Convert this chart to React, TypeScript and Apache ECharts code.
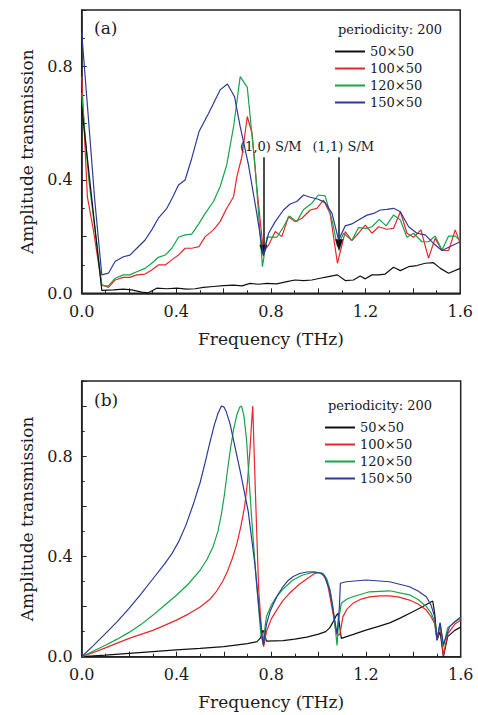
import React, { useEffect, useRef } from "react";
import * as echarts from "echarts";

const seriesNames = ["50×50", "100×50", "120×50", "150×50"];
const seriesColors = ["#111111", "#e8262b", "#17a34a", "#2c3b97"];
const xTickLabels = ["0.0", "0.4", "0.8", "1.2", "1.6"];
const yTickLabels = ["0.0", "0.4", "0.8"];
const arrowFreqs = [0.768, 1.088];
const arrowLabels = ["(1,0) S/M", "(1,1) S/M"];

// Panel (a): measured
const blackA = [[0,0.66],[0.085,0.01],[0.134,0.012],[0.176,0.015],[0.211,0.012],[0.254,0.004],[0.282,0.002],[0.317,0.018],[0.36,0.016],[0.402,0.018],[0.444,0.015],[0.479,0.016],[0.515,0.021],[0.557,0.024],[0.6,0.027],[0.642,0.029],[0.677,0.026],[0.712,0.035],[0.747,0.032],[0.783,0.035],[0.825,0.033],[0.867,0.041],[0.902,0.047],[0.938,0.045],[0.973,0.047],[1.008,0.053],[1.043,0.059],[1.081,0.065],[1.114,0.045],[1.149,0.047],[1.177,0.061],[1.199,0.051],[1.227,0.065],[1.255,0.065],[1.283,0.068],[1.318,0.092],[1.347,0.08],[1.382,0.094],[1.417,0.098],[1.452,0.106],[1.487,0.108],[1.516,0.088],[1.551,0.071],[1.6,0.088]];
const redA = [[0,0.765],[0.024,0.34],[0.05,0.22],[0.085,0.03],[0.113,0.021],[0.141,0.047],[0.176,0.056],[0.204,0.056],[0.233,0.065],[0.268,0.068],[0.296,0.082],[0.324,0.1],[0.353,0.1],[0.381,0.118],[0.409,0.135],[0.437,0.159],[0.465,0.159],[0.496,0.165],[0.522,0.2],[0.557,0.224],[0.585,0.253],[0.613,0.3],[0.642,0.341],[0.656,0.412],[0.677,0.482],[0.7,0.624],[0.72,0.565],[0.74,0.376],[0.768,0.147],[0.79,0.17],[0.818,0.218],[0.846,0.2],[0.874,0.27],[0.902,0.253],[0.931,0.265],[0.966,0.294],[0.994,0.3],[1.022,0.329],[1.05,0.282],[1.081,0.106],[1.114,0.218],[1.142,0.186],[1.17,0.212],[1.199,0.241],[1.227,0.212],[1.255,0.235],[1.29,0.226],[1.318,0.229],[1.347,0.288],[1.375,0.212],[1.403,0.198],[1.434,0.224],[1.466,0.124],[1.494,0.194],[1.523,0.151],[1.551,0.151],[1.579,0.224],[1.6,0.176]];
const greenA = [[0,0.706],[0.03,0.4],[0.06,0.2],[0.085,0.027],[0.113,0.026],[0.141,0.053],[0.176,0.065],[0.204,0.065],[0.233,0.076],[0.268,0.088],[0.296,0.106],[0.324,0.127],[0.353,0.135],[0.381,0.159],[0.409,0.198],[0.437,0.206],[0.465,0.209],[0.496,0.247],[0.522,0.282],[0.557,0.324],[0.585,0.376],[0.613,0.453],[0.642,0.588],[0.67,0.765],[0.7,0.727],[0.733,0.447],[0.764,0.094],[0.783,0.198],[0.825,0.198],[0.853,0.235],[0.878,0.273],[0.909,0.253],[0.938,0.296],[0.973,0.318],[1.0,0.347],[1.029,0.344],[1.058,0.259],[1.081,0.165],[1.107,0.212],[1.142,0.186],[1.17,0.232],[1.206,0.229],[1.227,0.235],[1.258,0.261],[1.287,0.238],[1.318,0.276],[1.347,0.259],[1.375,0.198],[1.403,0.212],[1.438,0.182],[1.466,0.182],[1.494,0.202],[1.523,0.153],[1.551,0.202],[1.579,0.202],[1.6,0.186]];
const blueA = [[0,0.92],[0.03,0.6],[0.055,0.33],[0.085,0.065],[0.113,0.071],[0.141,0.112],[0.176,0.129],[0.204,0.135],[0.233,0.159],[0.268,0.188],[0.296,0.224],[0.324,0.265],[0.36,0.3],[0.385,0.34],[0.409,0.382],[0.437,0.4],[0.465,0.476],[0.496,0.571],[0.536,0.635],[0.585,0.718],[0.616,0.739],[0.646,0.694],[0.67,0.588],[0.705,0.453],[0.74,0.282],[0.768,0.135],[0.79,0.212],[0.818,0.253],[0.853,0.294],[0.881,0.315],[0.909,0.324],[0.938,0.347],[0.966,0.339],[1.0,0.332],[1.029,0.32],[1.058,0.282],[1.086,0.188],[1.114,0.238],[1.142,0.245],[1.17,0.259],[1.206,0.276],[1.234,0.282],[1.262,0.294],[1.29,0.296],[1.318,0.3],[1.347,0.288],[1.382,0.235],[1.417,0.212],[1.452,0.206],[1.487,0.176],[1.523,0.151],[1.558,0.165],[1.6,0.182]];

// Panel (b): simulated
const blackB = [[0,0],[0.1,0.006],[0.2,0.013],[0.3,0.02],[0.4,0.027],[0.5,0.033],[0.6,0.04],[0.7,0.052],[0.74,0.06],[0.755,0.075],[0.765,0.106],[0.772,0.09],[0.78,0.062],[0.85,0.064],[0.9,0.07],[0.95,0.078],[1.0,0.09],[1.03,0.1],[1.047,0.115],[1.062,0.14],[1.075,0.165],[1.082,0.173],[1.096,0.073],[1.15,0.09],[1.2,0.106],[1.25,0.12],[1.3,0.135],[1.342,0.153],[1.4,0.18],[1.44,0.2],[1.482,0.222],[1.49,0.173],[1.5,0.066],[1.513,0.1],[1.527,0.0],[1.545,0.08],[1.575,0.105],[1.6,0.118]];
const redB = [[0,0],[0.05,0.017],[0.1,0.035],[0.15,0.054],[0.2,0.073],[0.25,0.089],[0.3,0.105],[0.35,0.125],[0.4,0.146],[0.45,0.17],[0.5,0.198],[0.54,0.228],[0.57,0.262],[0.595,0.3],[0.615,0.34],[0.635,0.39],[0.655,0.45],[0.672,0.52],[0.688,0.6],[0.7,0.7],[0.71,0.82],[0.717,0.93],[0.722,1.0],[0.733,0.665],[0.747,0.27],[0.761,0.08],[0.768,0.04],[0.78,0.1],[0.8,0.15],[0.823,0.186],[0.85,0.225],[0.879,0.255],[0.92,0.29],[0.95,0.31],[0.98,0.33],[1.0,0.336],[1.015,0.333],[1.03,0.31],[1.04,0.28],[1.05,0.23],[1.061,0.173],[1.07,0.12],[1.08,0.085],[1.09,0.09],[1.103,0.16],[1.12,0.19],[1.145,0.213],[1.18,0.23],[1.215,0.239],[1.26,0.243],[1.3,0.243],[1.34,0.238],[1.384,0.226],[1.42,0.21],[1.455,0.186],[1.475,0.16],[1.49,0.133],[1.5,0.066],[1.513,0.13],[1.527,0.005],[1.545,0.09],[1.575,0.13],[1.6,0.145]];
const greenB = [[0,0],[0.05,0.023],[0.1,0.046],[0.15,0.07],[0.2,0.097],[0.25,0.128],[0.3,0.165],[0.35,0.205],[0.4,0.245],[0.45,0.29],[0.5,0.345],[0.53,0.39],[0.555,0.44],[0.575,0.5],[0.59,0.57],[0.603,0.65],[0.615,0.74],[0.628,0.83],[0.642,0.91],[0.655,0.965],[0.667,0.995],[0.675,1.0],[0.685,0.96],[0.696,0.864],[0.717,0.558],[0.738,0.293],[0.756,0.093],[0.765,0.055],[0.78,0.16],[0.8,0.205],[0.822,0.239],[0.85,0.27],[0.892,0.306],[0.93,0.325],[0.97,0.335],[1.0,0.336],[1.02,0.332],[1.035,0.31],[1.05,0.26],[1.062,0.19],[1.072,0.1],[1.078,0.045],[1.085,0.15],[1.096,0.213],[1.12,0.23],[1.145,0.239],[1.215,0.259],[1.3,0.263],[1.384,0.247],[1.42,0.228],[1.455,0.2],[1.475,0.175],[1.49,0.14],[1.5,0.07],[1.513,0.133],[1.527,0.04],[1.545,0.115],[1.575,0.138],[1.6,0.153]];
const blueB = [[0,0],[0.05,0.045],[0.1,0.092],[0.15,0.14],[0.2,0.193],[0.25,0.25],[0.3,0.31],[0.35,0.37],[0.38,0.41],[0.41,0.46],[0.44,0.525],[0.47,0.605],[0.5,0.695],[0.52,0.77],[0.54,0.85],[0.56,0.925],[0.575,0.97],[0.59,1.0],[0.6,0.997],[0.61,0.978],[0.626,0.93],[0.668,0.745],[0.703,0.58],[0.731,0.37],[0.752,0.16],[0.767,0.045],[0.78,0.13],[0.795,0.18],[0.809,0.21],[0.83,0.25],[0.85,0.28],[0.87,0.303],[0.893,0.32],[0.92,0.332],[0.95,0.338],[0.984,0.339],[1.01,0.332],[1.026,0.32],[1.047,0.266],[1.061,0.186],[1.078,0.09],[1.088,0.2],[1.092,0.293],[1.117,0.299],[1.2,0.306],[1.3,0.299],[1.384,0.279],[1.42,0.262],[1.455,0.239],[1.475,0.205],[1.49,0.16],[1.5,0.066],[1.513,0.136],[1.527,0.047],[1.553,0.12],[1.575,0.14],[1.6,0.158]];

const panelA = [blackA, redA, greenA, blueA];
const panelB = [blackB, redB, greenB, blueB];

const FONT = '"DejaVu Serif", serif';
const TXT = "#1a1a1a";

function xAxisFor(gridIndex: number) {
  return {
    type: "value",
    gridIndex,
    min: 0,
    max: 1.6,
    interval: 0.2,
    name: "Frequency (THz)",
    nameLocation: "middle",
    nameGap: 37,
    nameTextStyle: { fontFamily: FONT, fontSize: 17, color: TXT },
    axisLine: { show: true, onZero: false, lineStyle: { color: "#222", width: 1.5 } },
    axisTick: { show: true, inside: true, length: 5, lineStyle: { color: "#222", width: 1 } },
    minorTick: { show: true, splitNumber: 2, length: 3, lineStyle: { color: "#222", width: 1 } },
    splitLine: { show: false },
    axisLabel: {
      margin: 10,
      fontFamily: FONT,
      fontSize: 16,
      color: TXT,
      showMinLabel: true,
      showMaxLabel: true,
      formatter: (v: number) => {
        const s = v.toFixed(1);
        return xTickLabels.includes(s) ? s : "";
      },
    },
  };
}

function yAxisFor(gridIndex: number, max: number) {
  return {
    type: "value",
    gridIndex,
    min: 0,
    max,
    interval: 0.2,
    name: "Amplitude transmission",
    nameLocation: "middle",
    nameGap: 46,
    nameTextStyle: { fontFamily: FONT, fontSize: 17, color: TXT },
    axisLine: { show: true, onZero: false, lineStyle: { color: "#222", width: 1.5 } },
    axisTick: { show: true, inside: true, length: 5, lineStyle: { color: "#222", width: 1 } },
    minorTick: { show: true, splitNumber: 2, length: 3, lineStyle: { color: "#222", width: 1 } },
    splitLine: { show: false },
    axisLabel: {
      margin: 9,
      fontFamily: FONT,
      fontSize: 16,
      color: TXT,
      showMinLabel: true,
      formatter: (v: number) => {
        const s = v.toFixed(1);
        return yTickLabels.includes(s) && Math.abs(v - parseFloat(s)) < 1e-6 ? s : "";
      },
    },
  };
}

function legendFor(left: number, top: number) {
  return {
    left,
    top,
    orient: "vertical",
    padding: 0,
    itemWidth: 30,
    itemHeight: 2,
    itemGap: 4,
    icon: "rect",
    selectedMode: false,
    data: seriesNames,
    textStyle: { fontFamily: FONT, fontSize: 13, color: TXT },
  };
}

export default function App() {
  const ref = useRef<HTMLDivElement>(null);
  useEffect(() => {
    if (!ref.current) return;
    const chart = echarts.init(ref.current, null, { renderer: "svg" });
    const series: any[] = [];
    panelA.forEach((d, i) => {
      const s: any = {
        type: "line",
        name: seriesNames[i],
        xAxisIndex: 0,
        yAxisIndex: 0,
        data: d,
        symbol: "none",
        lineStyle: { color: seriesColors[i], width: 1.2 },
        itemStyle: { color: seriesColors[i] },
        z: 2 + i,
      };
      if (i === 0) {
        s.markLine = {
          silent: true,
          animation: false,
          label: { show: false },
          lineStyle: { color: "#111", width: 1.5, type: "solid" },
          data: arrowFreqs.map((f, k) => [
            { coord: [f, 0.48], symbol: "none" },
            { coord: [f, k === 0 ? 0.15 : 0.17], symbol: "triangle", symbolSize: [8, 12] },
          ]),
        };
        s.z = 10;
      }
      series.push(s);
    });
    panelB.forEach((d, i) => {
      series.push({
        type: "line",
        name: seriesNames[i],
        xAxisIndex: 1,
        yAxisIndex: 1,
        data: d,
        symbol: "none",
        lineStyle: { color: seriesColors[i], width: 1.2 },
        itemStyle: { color: seriesColors[i] },
        z: 2 + i,
      });
    });

    const txt = (text: string, x: number, y: number, size: number, align = "left") => ({
      type: "text",
      x,
      y,
      z: 20,
      style: { text, fontFamily: FONT, fontSize: size, fill: TXT, align, verticalAlign: "middle" },
    });

    chart.setOption({
      animation: false,
      backgroundColor: "#ffffff",
      grid: [
        { left: 81.7, top: 10, width: 378.5, height: 283.3, show: true, borderColor: "#222", borderWidth: 1.5, containLabel: false },
        { left: 81.7, top: 381, width: 379, height: 275.7, show: true, borderColor: "#222", borderWidth: 1.5, containLabel: false },
      ],
      xAxis: [xAxisFor(0), xAxisFor(1)],
      yAxis: [yAxisFor(0, 1.0), yAxisFor(1, 1.1)],
      legend: [legendFor(335, 45), legendFor(325, 421)],
      series,
      graphic: [
        txt("(a)", 94, 28, 17),
        txt("periodicity: 200", 338, 29.5, 13),
        txt("(b)", 94, 400, 17),
        txt("periodicity: 200", 328, 405, 13),
        txt(arrowLabels[0], 270.8, 146, 13, "center"),
        txt(arrowLabels[1], 343.3, 146, 13, "center"),
      ],
    });
    return () => chart.dispose();
  }, []);
  return (
    <div
      ref={ref}
      style={{ position: "fixed", left: 0, top: 0, width: 478, height: 715, background: "#fff" }}
    />
  );
}
